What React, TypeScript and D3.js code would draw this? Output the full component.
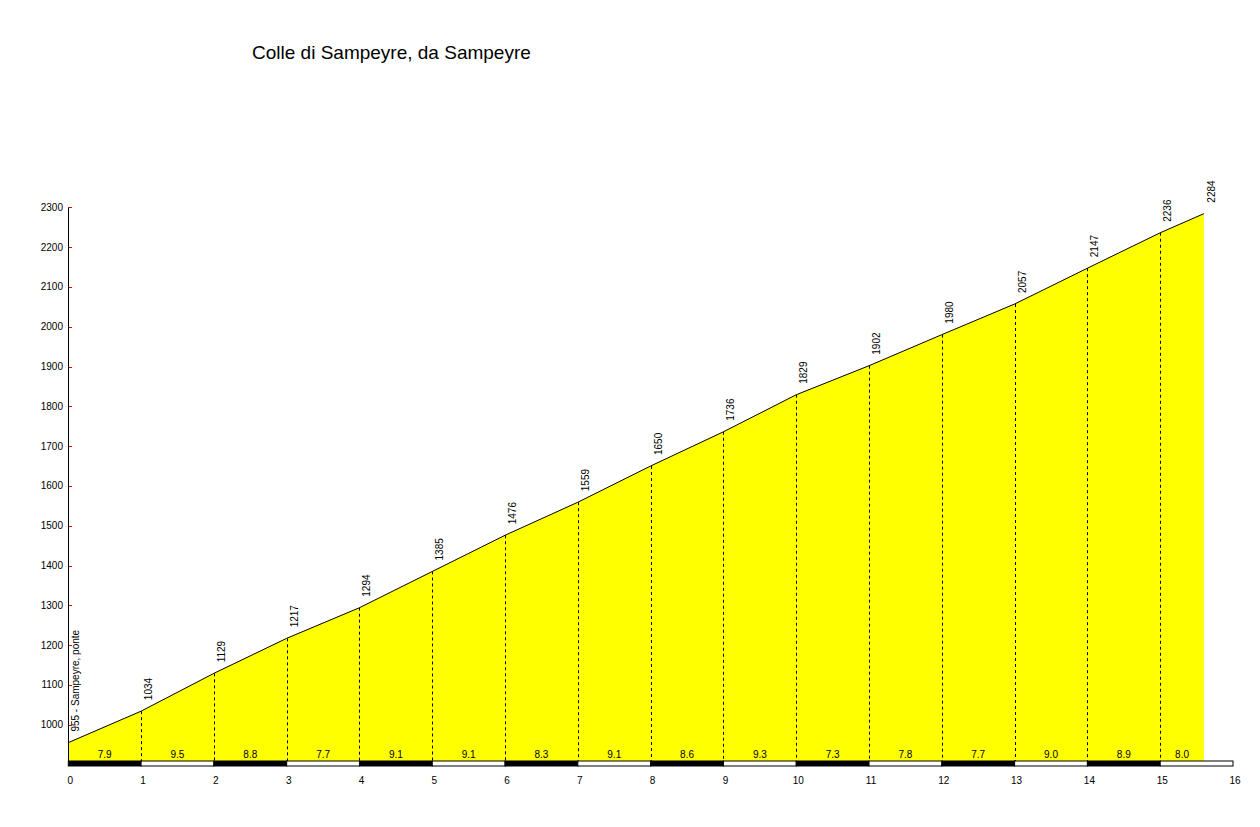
import * as d3 from 'd3';

// km marks along the climb and the altitude at each one
const kmMarks = [0, 1, 2, 3, 4, 5, 6, 7, 8, 9, 10, 11, 12, 13, 14, 15, 15.6];
const altitudes = [955, 1034, 1129, 1217, 1294, 1385, 1476, 1559, 1650, 1736, 1829, 1902, 1980, 2057, 2147, 2236, 2284];
// average gradient (%) of each km
const gradients = [7.9, 9.5, 8.8, 7.7, 9.1, 9.1, 8.3, 9.1, 8.6, 9.3, 7.3, 7.8, 7.7, 9.0, 8.9, 8.0];
const xTicks = [0, 1, 2, 3, 4, 5, 6, 7, 8, 9, 10, 11, 12, 13, 14, 15, 16];
const yTicks = [1000, 1100, 1200, 1300, 1400, 1500, 1600, 1700, 1800, 1900, 2000, 2100, 2200, 2300];
const startName = 'Sampeyre, ponte';
const title = 'Colle di Sampeyre, da Sampeyre';

const W = 1260;
const H = 827;
const FONT = "Arial, 'Liberation Sans', sans-serif";

export default function App() {
  const x = d3.scaleLinear().domain([0, 16]).range([68.3, 1233]);
  const y = d3.scaleLinear().domain([1000, 2300]).range([724.7, 207.3]);
  const base = 761; // top of the km strip
  const stripH = 5;

  const pts = kmMarks.map((k, i) => ({ k, a: altitudes[i] }));
  const area = d3
    .area<any>()
    .x((d) => x(d.k))
    .y0(base)
    .y1((d) => y(d.a));
  const line = d3
    .line<any>()
    .x((d) => x(d.k))
    .y((d) => y(d.a));

  return (
    <svg
      width={W}
      height={H}
      style={{ position: 'absolute', left: 0, top: 0, background: '#fff' }}
      fontFamily={FONT}
    >
      <rect width={W} height={H} fill="#fff" />
      <text x={252} y={59} fontSize={19} fill="#000">
        {title}
      </text>

      {/* profile */}
      <path d={area(pts) ?? ''} fill="#ffff00" stroke="none" />
      <path d={line(pts) ?? ''} fill="none" stroke="#000" strokeWidth={1} />

      {/* km verticals */}
      {pts.slice(1, -1).map((d) => (
        <line
          key={'v' + d.k}
          x1={Math.round(x(d.k)) + 0.5}
          x2={Math.round(x(d.k)) + 0.5}
          y1={y(d.a)}
          y2={base}
          stroke="#000"
          strokeDasharray="3,3"
          strokeWidth={1}
        />
      ))}

      {/* altitude labels */}
      {pts.map((d, i) => {
        const tx = x(d.k) + 11;
        const ty = y(d.a) - 11;
        const label = i === 0 ? `${d.a} - ${startName}` : `${d.a}`;
        return (
          <text
            key={'a' + d.k}
            transform={`translate(${tx},${ty}) rotate(-90)`}
            fontSize={10}
            fill="#000"
          >
            {label}
          </text>
        );
      })}

      {/* gradient labels */}
      {gradients.map((g, i) => {
        const x0 = kmMarks[i];
        const x1 = kmMarks[i + 1];
        return (
          <text
            key={'g' + i}
            x={(x(x0) + x(x1)) / 2}
            y={757.5}
            fontSize={10}
            textAnchor="middle"
            fill="#000"
          >
            {g.toFixed(1)}
          </text>
        );
      })}

      {/* km strip */}
      {xTicks.slice(0, -1).map((k, i) => (
        <rect
          key={'s' + k}
          x={x(k)}
          y={base}
          width={x(k + 1) - x(k)}
          height={stripH}
          fill={i % 2 === 0 ? '#000' : '#fff'}
          stroke="#000"
          strokeWidth={1}
        />
      ))}

      {/* x tick labels */}
      {xTicks.map((k) => (
        <text key={'x' + k} x={x(k) + 2} y={784} fontSize={10} textAnchor="middle" fill="#000">
          {k}
        </text>
      ))}

      {/* y axis */}
      <line x1={68.5} x2={68.5} y1={y(2300)} y2={base} stroke="#000" strokeWidth={1} />
      {yTicks.map((t) => (
        <g key={'y' + t}>
          <line x1={69} x2={72} y1={Math.round(y(t)) + 0.5} y2={Math.round(y(t)) + 0.5} stroke="#e00000" strokeWidth={1} />
          <text x={63} y={y(t)} dy="0.35em" fontSize={10} textAnchor="end" fill="#000">
            {t}
          </text>
        </g>
      ))}
    </svg>
  );
}
